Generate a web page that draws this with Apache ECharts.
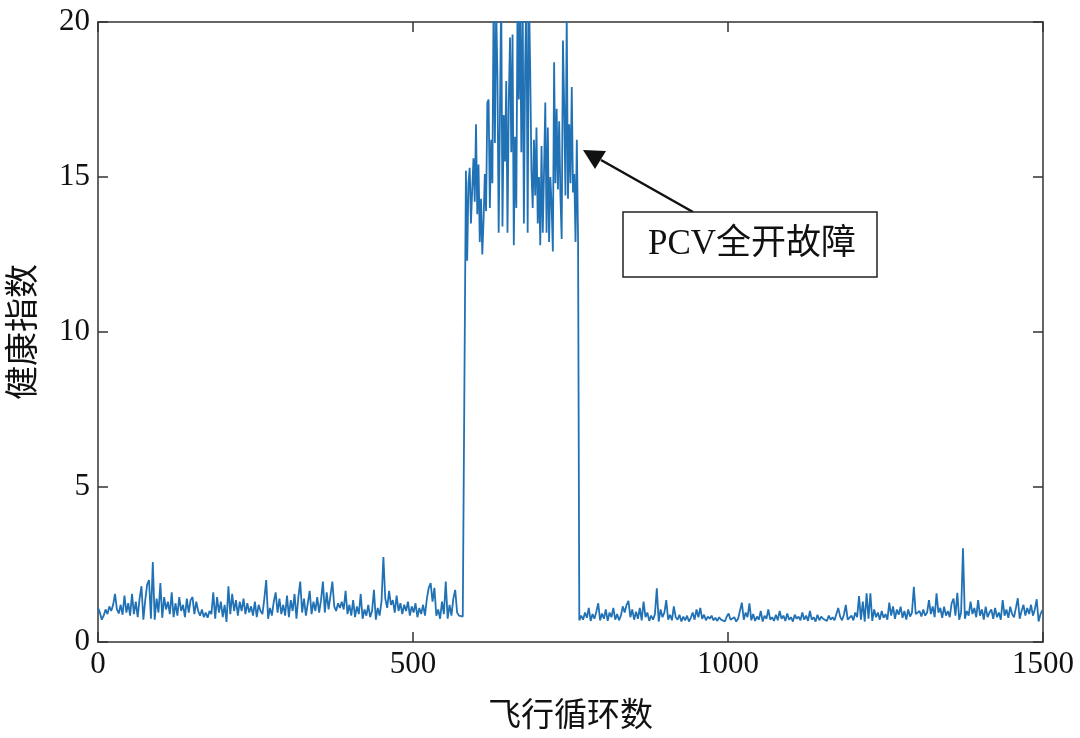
<!DOCTYPE html>
<html>
<head>
<meta charset="utf-8">
<script src="https://cdn.jsdelivr.net/npm/echarts@6/dist/echarts.min.js"></script>
<style>
html,body{margin:0;padding:0;background:#fff;}
#chart{width:1080px;height:738px;}
</style>
</head>
<body>
<div id="chart"></div>
<script>
// Normal segment before fault: cycles 0..582, step 3
const seg1Start = 0, seg1Step = 3;
const seg1Values = [
1.10,0.95,0.72,0.85,1.05,0.90,1.15,1.00,1.20,1.55,
1.05,0.92,1.20,0.88,1.50,0.95,1.25,0.85,1.55,0.90,
1.30,0.80,1.40,1.80,0.72,1.35,1.85,2.00,0.75,2.58,
0.72,1.40,0.95,1.90,0.78,1.45,1.05,1.30,0.90,1.60,
0.80,1.25,0.85,1.45,1.00,1.20,0.80,1.40,0.95,1.35,
1.45,0.90,1.30,1.00,0.85,1.05,0.80,0.95,0.78,1.00,
0.90,1.60,0.75,1.45,0.95,1.30,0.80,1.20,0.65,1.80,
0.90,1.55,1.00,1.35,0.85,1.30,1.00,1.40,0.90,1.25,
0.95,1.15,0.85,1.30,0.80,1.20,1.00,0.90,1.40,2.00,
0.75,1.10,0.85,1.30,1.60,0.95,1.40,0.90,1.20,0.85,
1.50,0.80,1.35,1.00,1.55,0.75,1.45,1.95,0.95,1.40,
0.85,1.25,1.65,0.90,1.30,1.00,1.45,0.95,1.35,1.95,
0.95,1.60,1.05,1.50,1.95,1.15,1.00,1.25,1.10,1.30,
1.05,1.65,0.90,1.20,0.85,1.35,0.80,1.15,0.90,1.55,
0.75,1.05,0.85,1.20,0.80,1.00,1.68,0.72,1.10,0.85,
1.30,2.74,1.40,1.10,1.65,1.20,1.35,0.95,1.50,1.00,
1.25,0.90,1.20,1.00,1.30,0.85,1.15,0.95,1.25,0.80,
1.10,0.90,1.20,0.85,1.40,1.75,1.90,1.30,1.75,0.85,
1.05,0.75,1.30,0.90,1.95,0.75,1.20,0.85,1.40,1.68,
0.95,0.85,0.90,0.82,0.88
];
// PCV fully-open fault segment: cycles 584..762, step 2
const faultStart = 584, faultStep = 2;
const faultValues = [
15.2,12.3,14.8,15.3,13.5,14.6,15.6,14.2,16.7,13.8,
15.4,12.9,14.3,12.5,13.6,15.1,13.9,17.4,17.5,14.0,
16.2,14.8,21.0,16.1,20.5,18.3,13.2,17.0,21.0,13.4,
17.0,15.5,18.1,13.2,17.4,19.5,15.8,19.6,12.8,16.3,
14.0,21.0,17.5,20.5,15.8,21.0,13.5,18.6,21.0,13.2,
21.0,18.5,15.2,14.0,16.2,14.4,16.6,13.5,15.0,12.8,
16.0,13.2,15.2,17.4,13.2,16.6,12.9,15.0,14.1,12.6,
18.7,14.8,17.2,14.6,16.8,14.4,13.0,19.4,17.3,14.4,
20.2,14.3,16.7,14.8,17.9,14.5,15.1,12.9,16.2,13.0
];
// Normal segment after fault: cycles 764..1499, step 3
const seg2Start = 764, seg2Step = 3;
const seg2Values = [
0.70,0.85,0.72,0.95,0.78,1.10,0.68,0.90,0.75,0.98,
1.25,0.70,0.92,0.75,1.05,0.68,0.95,0.80,1.10,0.72,
0.90,0.70,0.85,1.15,0.95,1.20,1.33,0.80,1.05,0.72,
0.98,0.75,1.10,0.70,1.30,0.80,0.95,0.68,0.85,0.72,
0.90,1.73,0.66,1.05,0.80,0.95,1.35,0.72,0.88,0.70,
1.15,0.80,0.72,0.88,0.66,0.82,0.70,0.85,0.66,0.78,
0.95,0.72,1.05,0.80,1.10,0.75,0.88,0.70,0.82,0.75,
0.85,0.70,0.78,0.68,0.80,0.72,0.75,0.66,0.82,0.92,
0.72,0.68,0.80,0.66,0.75,0.70,1.27,0.72,0.95,0.80,
1.25,0.70,0.90,0.68,0.82,0.72,1.00,0.66,0.85,0.75,
1.05,0.72,0.80,0.68,0.88,0.70,1.00,0.75,0.85,0.68,
0.92,0.72,0.80,0.66,0.88,0.75,0.82,0.70,0.95,0.72,
0.85,0.68,1.00,0.72,0.80,0.66,0.88,0.70,0.82,0.75,
0.78,0.68,0.85,0.72,0.80,0.70,0.75,1.10,0.82,0.70,
0.88,1.20,0.72,0.66,0.85,0.70,0.95,0.80,1.48,0.72,
1.30,0.66,1.57,0.75,1.57,0.68,1.05,0.80,0.95,0.72,
1.00,0.78,0.90,0.72,1.27,0.85,1.15,0.75,1.05,0.88,
1.14,0.78,1.00,0.72,1.05,0.82,0.95,1.78,0.90,0.85,
1.00,0.82,1.05,0.85,0.95,1.35,0.90,1.15,0.80,1.57,
0.95,1.10,0.78,1.14,0.85,1.00,0.80,1.25,1.40,0.85,
1.59,0.72,0.95,3.02,0.75,1.00,0.85,1.30,0.90,1.10,
0.80,1.35,0.85,1.05,0.72,1.14,0.80,0.95,1.05,0.75,
1.10,0.80,0.95,0.72,1.35,0.85,1.05,0.78,1.14,0.90,
0.80,1.10,1.41,0.75,1.00,1.20,0.85,1.10,0.90,1.20,
0.85,1.05,1.38,0.66,0.90,1.03
];
const xTicks = [0, 500, 1000, 1500];
const yTicks = [0, 5, 10, 15, 20];
const xName = '飞行循环数';
const yName = '健康指数';
const annotationText = 'PCV全开故障';

function toPairs(start, step, vals) {
  return vals.map((v, i) => [start + i * step, v]);
}
const data = [].concat(
  toPairs(seg1Start, seg1Step, seg1Values),
  toPairs(faultStart, faultStep, faultValues),
  toPairs(seg2Start, seg2Step, seg2Values)
);

const axisColor = '#333333';
const numFont = '"Liberation Serif", "DejaVu Serif", serif';
const cjkFont = '"Noto Sans CJK SC", sans-serif';

const chart = echarts.init(document.getElementById('chart'), null, {renderer: 'canvas'});
const xBase = {
  type: 'value', min: xTicks[0], max: xTicks[xTicks.length - 1],
  interval: xTicks[1] - xTicks[0],
  axisLine: {show: true, onZero: false, lineStyle: {color: axisColor, width: 1.5}},
  axisTick: {show: true, inside: true, length: 10, lineStyle: {color: axisColor, width: 1.5}},
  splitLine: {show: false}
};
const yBase = {
  type: 'value', min: yTicks[0], max: yTicks[yTicks.length - 1],
  interval: yTicks[1] - yTicks[0],
  axisLine: {show: true, onZero: false, lineStyle: {color: axisColor, width: 1.5}},
  axisTick: {show: true, inside: true, length: 10, lineStyle: {color: axisColor, width: 1.5}},
  splitLine: {show: false}
};
chart.setOption({
  animation: false,
  backgroundColor: '#ffffff',
  grid: {left: 98, right: 37, top: 22, bottom: 96, containLabel: false, outerBoundsMode: 'none'},
  xAxis: [
    Object.assign({}, xBase, {
      position: 'bottom',
      axisLabel: {fontFamily: numFont, fontSize: 31, color: '#111', margin: 7, formatter: v => String(v)},
      name: xName, nameLocation: 'middle', nameGap: 55,
      nameTextStyle: {fontFamily: cjkFont, fontSize: 33, color: '#111'}
    }),
    Object.assign({}, xBase, {position: 'top', axisLabel: {show: false}})
  ],
  yAxis: [
    Object.assign({}, yBase, {
      position: 'left',
      axisLabel: {fontFamily: numFont, fontSize: 31, color: '#111', margin: 8, formatter: v => String(v)},
      name: yName, nameLocation: 'middle', nameGap: 60, nameRotate: 90,
      nameTextStyle: {fontFamily: cjkFont, fontSize: 34, color: '#111'}
    }),
    Object.assign({}, yBase, {position: 'right', axisLabel: {show: false}})
  ],
  series: [{
    type: 'line',
    xAxisIndex: 0, yAxisIndex: 0,
    data: data,
    showSymbol: false,
    symbol: 'none',
    clip: true,
    lineStyle: {color: '#2171b5', width: 1.8},
    itemStyle: {color: '#2171b5'}
  }],
  graphic: [
    {type: 'line', shape: {x1: 693, y1: 212, x2: 601, y2: 160}, style: {stroke: '#111', lineWidth: 2.5}, z: 10},
    {type: 'polygon', shape: {points: [[583, 150], [606, 151], [595, 169]]}, style: {fill: '#111'}, z: 10},
    {type: 'rect', shape: {x: 623, y: 212, width: 254, height: 65}, style: {fill: '#fff', stroke: '#222', lineWidth: 1.5}, z: 10},
    {type: 'text', x: 648, y: 245, style: {text: annotationText, font: '35px "Liberation Serif", "Noto Sans CJK SC", serif', fill: '#111', textVerticalAlign: 'middle'}, z: 11}
  ]
});
</script>
</body>
</html>
